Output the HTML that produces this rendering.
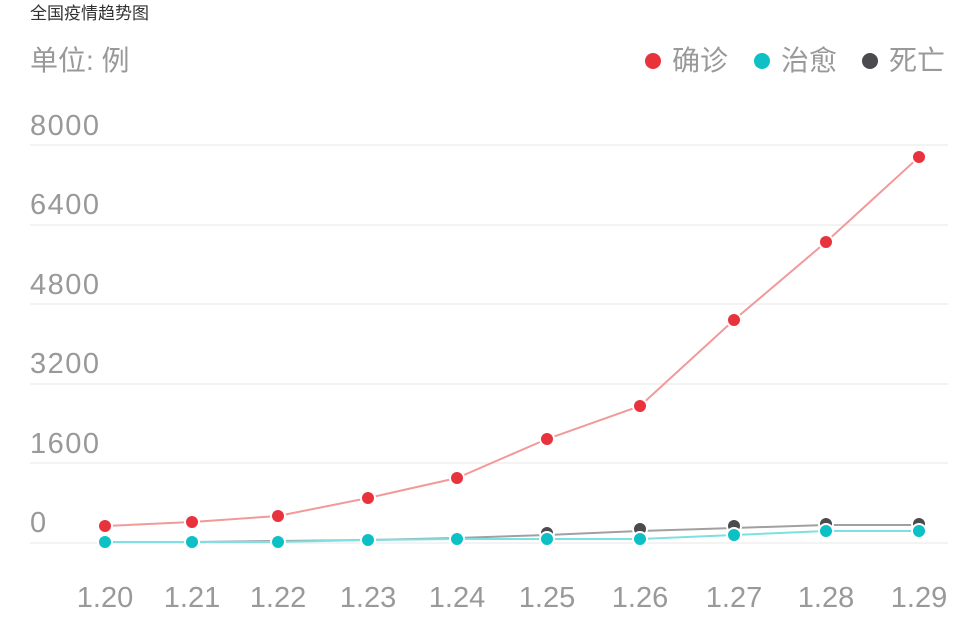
<!DOCTYPE html>
<html><head><meta charset="utf-8"><style>
html,body{margin:0;padding:0;background:#fff;width:974px;height:625px;overflow:hidden}
svg{display:block}
text{font-family:"Liberation Sans","Noto Sans CJK SC",sans-serif}
</style></head><body>
<svg width="974" height="625" viewBox="0 0 974 625">
<text x="30" y="19" font-size="17" fill="#333">全国疫情趋势图</text>
<text x="30" y="70" font-size="28" fill="#999">单位: 例</text>
<circle cx="653" cy="61" r="8" fill="#e8333c"/><text x="672" y="70" font-size="28" fill="#999">确诊</text>
<circle cx="762" cy="61" r="8" fill="#0cc0c6"/><text x="781" y="70" font-size="28" fill="#999">治愈</text>
<circle cx="870" cy="61" r="8" fill="#4a4a4f"/><text x="889" y="70" font-size="28" fill="#999">死亡</text>
<g stroke="#f3f3f3" stroke-width="2">
<line x1="30" y1="145" x2="948" y2="145"/><line x1="30" y1="225" x2="948" y2="225"/>
<line x1="30" y1="304" x2="948" y2="304"/><line x1="30" y1="384" x2="948" y2="384"/>
<line x1="30" y1="463" x2="948" y2="463"/><line x1="30" y1="543" x2="948" y2="543"/>
</g>
<g font-size="29" fill="#999" textLength="69">
<text x="30" y="135" textLength="69">8000</text><text x="30" y="214" textLength="69">6400</text><text x="30" y="294" textLength="69">4800</text>
<text x="30" y="373" textLength="69">3200</text><text x="30" y="453" textLength="69">1600</text><text x="30" y="532">0</text>
</g>
<g font-size="29" fill="#999" text-anchor="middle">
<text x="105" y="607">1.20</text><text x="192" y="607">1.21</text><text x="278" y="607">1.22</text>
<text x="368" y="607">1.23</text><text x="457" y="607">1.24</text><text x="547" y="607">1.25</text>
<text x="640" y="607">1.26</text><text x="734" y="607">1.27</text><text x="826" y="607">1.28</text>
<text x="919" y="607">1.29</text>
</g>
<polyline fill="none" stroke="#f29a9a" stroke-width="2" points="105,526 192,522 278,516 368,498 457,478 547,439 640,406 734,320 826,242 919,157"/>
<polyline fill="none" stroke="#a0a0a0" stroke-width="2" points="105,542 192,542 278,541 368,540 457,538 547,535 640,531 734,528 826,525 919,525"/>
<polyline fill="none" stroke="#7de0e2" stroke-width="2" points="105,542 192,542 278,542 368,540 457,539 547,539 640,539 734,535 826,531 919,531"/>
<g fill="#4a4a4f" stroke="#fff" stroke-width="2">
<circle cx="547" cy="533" r="7"/><circle cx="640" cy="529" r="7"/><circle cx="734" cy="526" r="7"/><circle cx="826" cy="524" r="7"/><circle cx="919" cy="524" r="7"/>
</g>
<g fill="#e8333c" stroke="#fff" stroke-width="2">
<circle cx="105" cy="526" r="7"/><circle cx="192" cy="522" r="7"/><circle cx="278" cy="516" r="7"/><circle cx="368" cy="498" r="7"/><circle cx="457" cy="478" r="7"/><circle cx="547" cy="439" r="7"/><circle cx="640" cy="406" r="7"/><circle cx="734" cy="320" r="7"/><circle cx="826" cy="242" r="7"/><circle cx="919" cy="157" r="7"/>
</g>
<g fill="#0cc0c6" stroke="#fff" stroke-width="2">
<circle cx="105" cy="542" r="7"/><circle cx="192" cy="542" r="7"/><circle cx="278" cy="542" r="7"/><circle cx="368" cy="540" r="7"/><circle cx="457" cy="539" r="7"/><circle cx="547" cy="539" r="7"/><circle cx="640" cy="539" r="7"/><circle cx="734" cy="535" r="7"/><circle cx="826" cy="531" r="7"/><circle cx="919" cy="531" r="7"/>
</g>
</svg>
</body></html>
